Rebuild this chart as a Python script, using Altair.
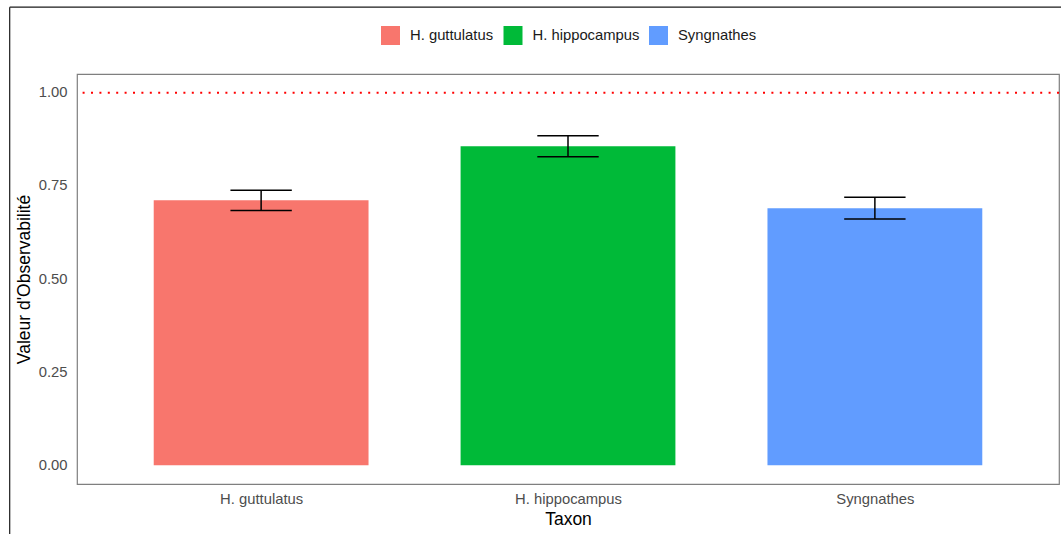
import altair as alt
import pandas as pd

# Observability per taxon: mean value and half-width of the error bar
taxa = ["H. guttulatus", "H. hippocampus", "Syngnathes"]
means = [0.711, 0.856, 0.690]
errors = [0.027, 0.028, 0.029]
colors = ["#F8766D", "#00BA38", "#619CFF"]
y_ticks = [0.0, 0.25, 0.5, 0.75, 1.0]
reference_level = 1.0

df = pd.DataFrame({
    "taxon": taxa,
    "pos": list(range(1, len(taxa) + 1)),
    "mean": means,
    "err": errors,
})

FONT = "Liberation Sans"
W, H = 982, 410

label_expr = " : ".join(
    f"datum.value == {i + 1} ? '{t}'" for i, t in enumerate(taxa)
) + " : ''"

x_scale = alt.Scale(domain=[0.4, len(taxa) + 0.6], nice=False, zero=False)
y_scale = alt.Scale(domain=[-0.05, 1.05], nice=False, zero=False)

base = alt.Chart(df).transform_calculate(
    x0="datum.pos - 0.35",
    x1="datum.pos + 0.35",
    c0="datum.pos - 0.1",
    c1="datum.pos + 0.1",
    lo="datum.mean - datum.err",
    hi="datum.mean + datum.err",
)

bars = base.mark_bar(opacity=1).encode(
    x=alt.X(
        "x0:Q",
        scale=x_scale,
        title="Taxon",
        axis=alt.Axis(
            values=list(range(1, len(taxa) + 1)),
            labelExpr=label_expr,
            grid=False,
            ticks=False,
            domain=False,
            labelFont=FONT,
            labelFontSize=14.8,
            labelColor="#4D4D4D",
            labelPadding=7,
            titleFont=FONT,
            titleFontSize=17.5,
            titleFontWeight="normal",
            titleColor="#000000",
            titlePadding=5,
        ),
    ),
    x2="x1:Q",
    y=alt.Y(
        "mean:Q",
        scale=y_scale,
        title="Valeur d'Observabilité",
        axis=alt.Axis(
            values=y_ticks,
            format=".2f",
            grid=False,
            ticks=False,
            domain=False,
            labelFont=FONT,
            labelFontSize=14.8,
            labelColor="#4D4D4D",
            labelPadding=10,
            titleFont=FONT,
            titleFontSize=17.5,
            titleFontWeight="normal",
            titleColor="#000000",
            titlePadding=5,
        ),
    ),
    y2=alt.datum(0),
    color=alt.Color(
        "taxon:N",
        scale=alt.Scale(domain=taxa, range=colors),
        legend=alt.Legend(
            title=None,
            orient="none",
            direction="horizontal",
            legendX=304,
            legendY=-48,
            symbolType="square",
            symbolSize=361,
            symbolStrokeWidth=0,
            symbolOpacity=1,
            labelFont=FONT,
            labelFontSize=14.8,
            labelColor="#1A1A1A",
            labelOffset=10,
            columnPadding=9.5,
            padding=0,
        ),
    ),
)

whisker = base.mark_rule(color="#000000", strokeWidth=1.5).encode(
    x="pos:Q", y="lo:Q", y2="hi:Q"
)
cap_top = base.mark_rule(color="#000000", strokeWidth=1.5).encode(
    x="c0:Q", x2="c1:Q", y="hi:Q"
)
cap_bottom = base.mark_rule(color="#000000", strokeWidth=1.5).encode(
    x="c0:Q", x2="c1:Q", y="lo:Q"
)

ref = alt.Chart(pd.DataFrame({"level": [reference_level]})).mark_rule(
    color="#FF0000", strokeWidth=2, strokeDash=[2, 6.4]
).encode(y=alt.Y("level:Q", scale=y_scale))

# outer frame around the figure (top and left edges)
frame_df = pd.DataFrame({"k": [0]})
frame_left = alt.Chart(frame_df).mark_rule(color="#1A1A1A", strokeWidth=1.2).encode(
    x=alt.value(-67.3), y=alt.value(-66.8), y2=alt.value(H + 80)
)
frame_top = alt.Chart(frame_df).mark_rule(color="#1A1A1A", strokeWidth=1.2).encode(
    x=alt.value(-67.3), x2=alt.value(W + 40), y=alt.value(-66.8)
)

chart = alt.layer(
    bars, whisker, cap_top, cap_bottom, ref, frame_left, frame_top
).properties(
    width=W,
    height=H,
    autosize=alt.AutoSizeParams(type="none"),
    padding={"left": 77, "top": 74, "right": 2, "bottom": 50},
    background="#FFFFFF",
).configure_view(
    stroke="#7F7F7F", strokeWidth=1.2
)

chart.save("out.html", embed_options={"renderer": "svg", "actions": False})
